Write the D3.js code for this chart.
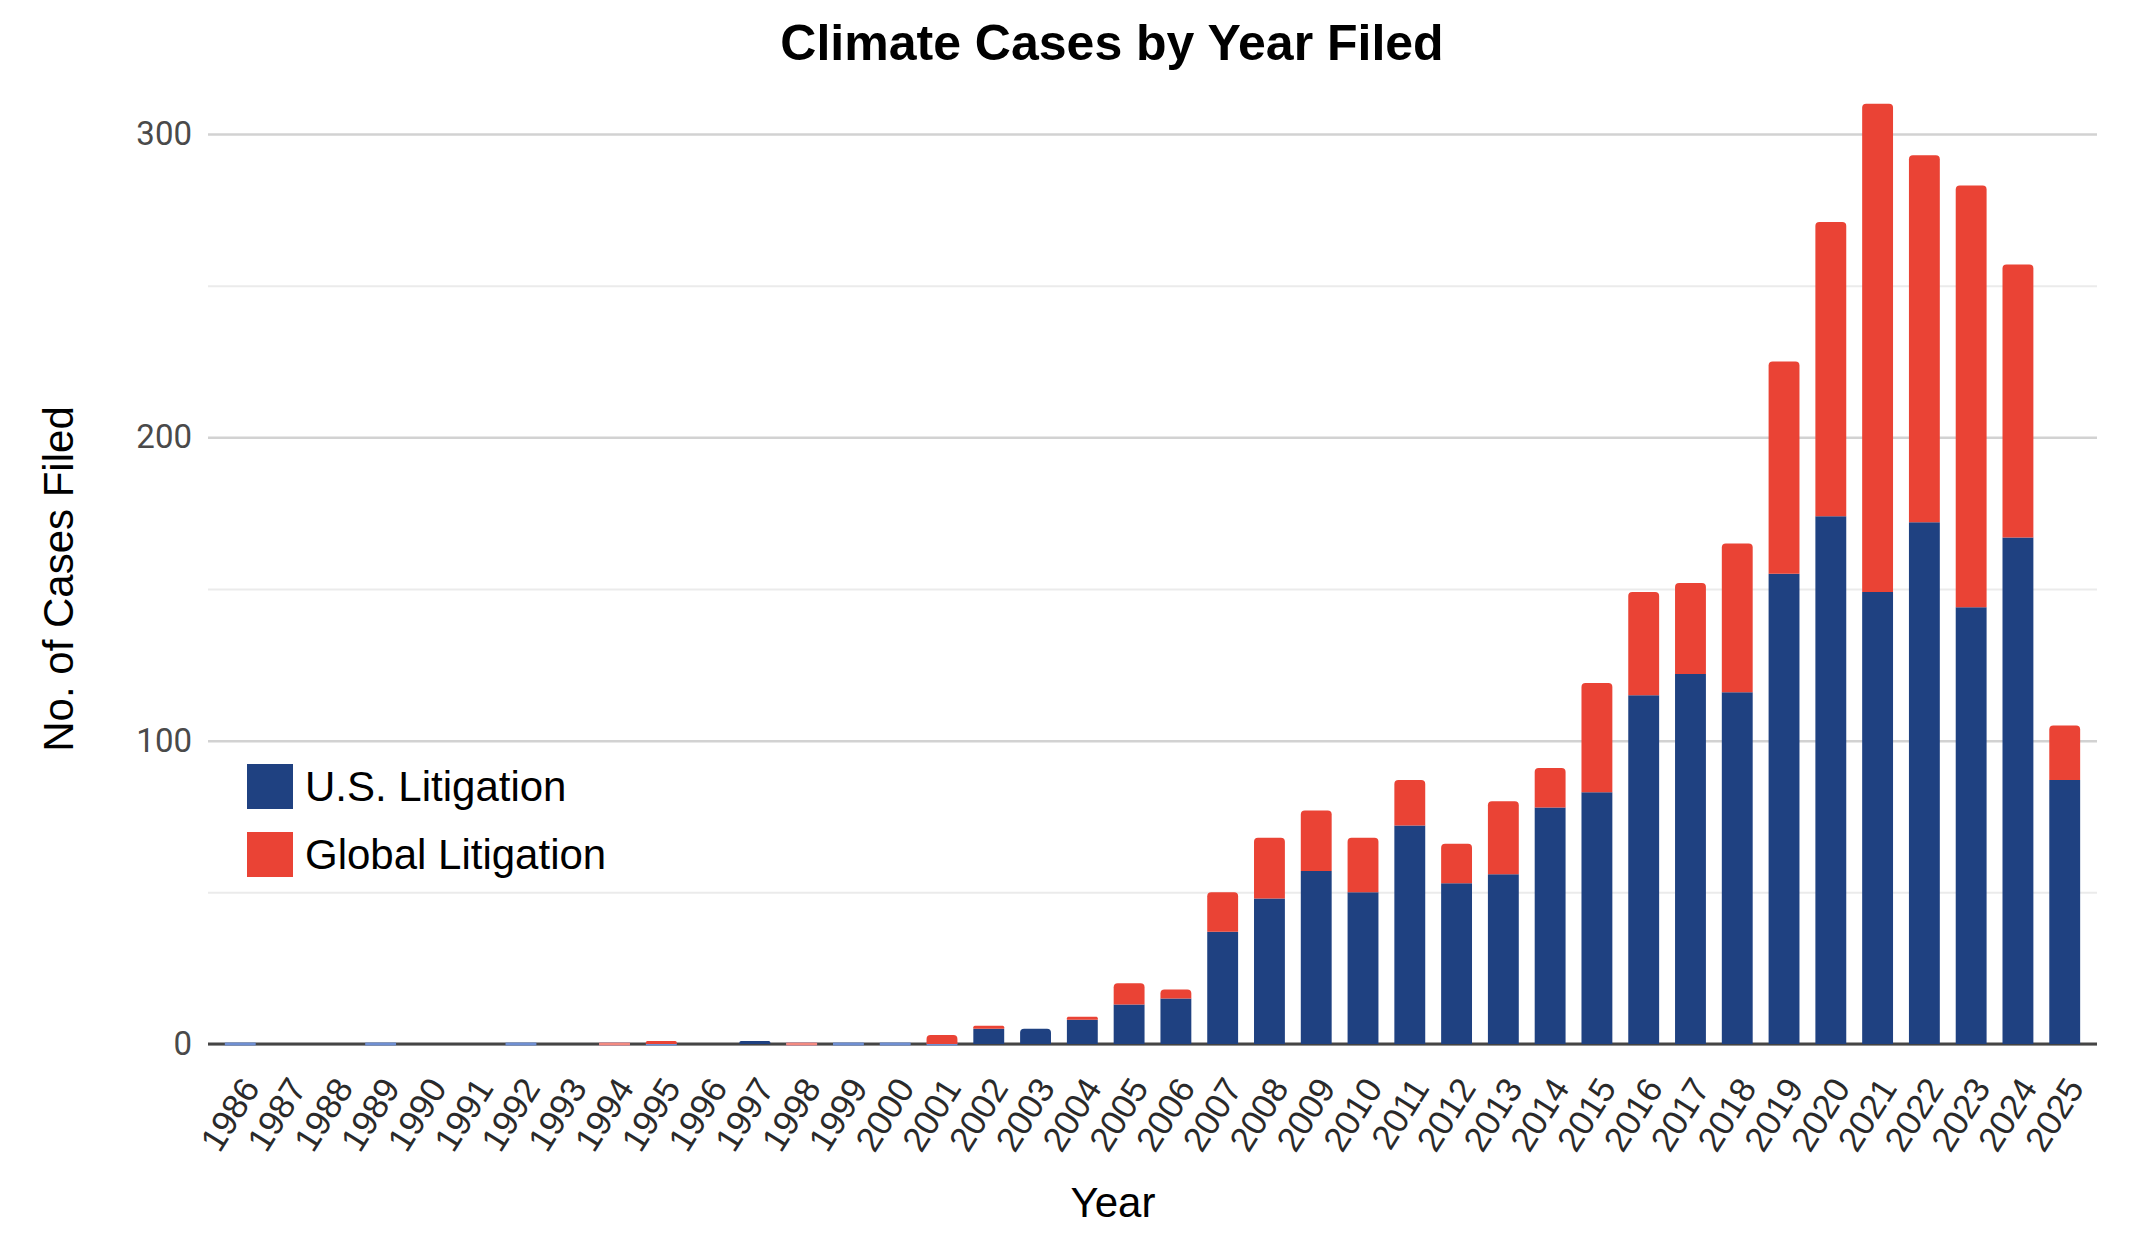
<!DOCTYPE html>
<html>
    <head>
        <title>Climate Cases by Year Filed</title>
        <script src="https://d3js.org/d3.v7.min.js"></script>
        <style>
            * {
                margin: 0;
                padding: 0;
                box-sizing: border-box;
            }

            body {
                overflow: hidden;
                background-color: #ffffff;
            }

            svg {
                display: block;
                background-color: #ffffff;
            }

            .grid .domain,
            .y-axis .domain,
            .x-axis .domain {
                display: none;
            }
        </style>
    </head>
    <body>
        <script>
            // values (null = no bar drawn)
            const years = [
                '1986', '1987', '1988', '1989', '1990', '1991', '1992', '1993', '1994', '1995',
                '1996', '1997', '1998', '1999', '2000', '2001', '2002', '2003', '2004', '2005',
                '2006', '2007', '2008', '2009', '2010', '2011', '2012', '2013', '2014', '2015',
                '2016', '2017', '2018', '2019', '2020', '2021', '2022', '2023', '2024', '2025',
            ];
            const usCases = [
                0, null, null, 0, null, null, 0, null, 0, 0,
                null, 1, 0, 0, 0, 0, 5, 5, 8, 13,
                15, 37, 48, 57, 50, 72, 53, 56, 78, 83,
                115, 122, 116, 155, 174, 149, 172, 144, 167, 87,
            ];
            const globalCases = [
                null, null, null, null, null, null, null, null, 0, 1,
                null, null, 0, null, null, 3, 1, null, 1, 7,
                3, 13, 20, 20, 18, 15, 13, 24, 13, 36,
                34, 30, 49, 70, 97, 161, 121, 139, 90, 18,
            ];
            const yTicks = [0, 100, 200, 300];
            const gridTicks = [0, 50, 100, 150, 200, 250, 300];
            const seriesNames = ['U.S. Litigation', 'Global Litigation'];

            const width = 2151;
            const height = 1245;
            const plotLeft = 208;
            const plotRight = 2097;
            const plotTop = 134;
            const plotBottom = 1044;

            const blue = '#1f4181';
            const red = '#ea4335';
            const colors = [blue, red];
            const zeroColors = ['#6f8fd2', '#f48a80'];

            const svg = d3.select('body').append('svg').attr('width', width).attr('height', height);

            const x = d3.scaleBand().domain(years).range([plotLeft, plotRight]).paddingInner(0.34).paddingOuter(0.36);
            const y = d3.scaleLinear().domain([0, 300]).range([plotBottom, plotTop]);

            // gridlines
            svg.append('g')
                .attr('class', 'grid')
                .attr('transform', `translate(${plotLeft},0)`)
                .call(d3.axisLeft(y).tickValues(gridTicks).tickSize(-(plotRight - plotLeft)).tickFormat(''))
                .selectAll('line')
                .attr('stroke', (d) => (d % 100 === 0 ? '#d2d2d2' : '#ebebeb'))
                .attr('stroke-width', (d) => (d % 100 === 0 ? 2.5 : 2));

            // baseline
            svg.append('line')
                .attr('x1', plotLeft)
                .attr('x2', plotRight)
                .attr('y1', y(0))
                .attr('y2', y(0))
                .attr('stroke', '#454545')
                .attr('stroke-width', 3);

            // stacked bars
            const rows = years.map((yr, i) => {
                const us = usCases[i];
                const gl = globalCases[i];
                const u = us || 0;
                const g = gl || 0;
                return {
                    year: yr,
                    segs: [
                        { s: 0, v: us, y0: 0, y1: u, top: !g },
                        { s: 1, v: gl, y0: u, y1: u + g, top: true },
                    ],
                };
            });

            function barPath(x0, w, yTop, yBot, r) {
                r = Math.min(r, (yBot - yTop) / 2, w / 2);
                return `M${x0},${yBot}V${yTop + r}Q${x0},${yTop} ${x0 + r},${yTop}H${x0 + w - r}Q${x0 + w},${yTop} ${x0 + w},${yTop + r}V${yBot}Z`;
            }

            const bars = svg.append('g').attr('class', 'bars');

            rows.forEach((row) => {
                const bx = x(row.year);
                const bw = x.bandwidth();
                row.segs.forEach((seg) => {
                    if (seg.v === null) return;
                    if (seg.v === 0) {
                        bars.append('rect')
                            .attr('x', bx)
                            .attr('y', y(seg.y0) - 1.5)
                            .attr('width', bw)
                            .attr('height', 3)
                            .attr('fill', zeroColors[seg.s]);
                        return;
                    }
                    bars.append('path')
                        .attr('d', barPath(bx, bw, y(seg.y1), y(seg.y0), seg.top ? 4 : 0))
                        .attr('fill', colors[seg.s]);
                });
            });

            // y axis labels
            svg.append('g')
                .attr('class', 'y-axis')
                .attr('transform', `translate(${plotLeft},0)`)
                .call(d3.axisLeft(y).tickValues(yTicks).tickSize(0).tickPadding(16))
                .selectAll('text')
                .attr('font-family', 'Roboto, sans-serif')
                .attr('font-size', 33)
                .attr('fill', '#4a4a4a');

            // x axis labels
            svg.append('g')
                .attr('class', 'x-axis')
                .attr('transform', `translate(0,${plotBottom})`)
                .call(d3.axisBottom(x).tickSize(0))
                .selectAll('text')
                .attr('font-family', "'Liberation Sans', Arial, sans-serif")
                .attr('font-size', 35)
                .attr('fill', '#2a2a2a')
                .attr('text-anchor', 'end')
                .attr('dy', 0)
                .attr('y', 0)
                .attr('transform', `translate(${x.bandwidth() / 2 + 5},44) rotate(-58)`);

            // title
            svg.append('text')
                .attr('x', 1112)
                .attr('y', 60)
                .attr('text-anchor', 'middle')
                .attr('font-family', "'Liberation Sans', Arial, sans-serif")
                .attr('font-weight', 'bold')
                .attr('font-size', 50)
                .attr('fill', '#000')
                .text('Climate Cases by Year Filed');

            // axis titles
            svg.append('text')
                .attr('x', 1113)
                .attr('y', 1217)
                .attr('text-anchor', 'middle')
                .attr('font-family', "'Liberation Sans', Arial, sans-serif")
                .attr('font-size', 42)
                .attr('fill', '#000')
                .text('Year');

            svg.append('text')
                .attr('transform', `translate(73,579) rotate(-90)`)
                .attr('text-anchor', 'middle')
                .attr('font-family', "'Liberation Sans', Arial, sans-serif")
                .attr('font-size', 42)
                .attr('fill', '#000')
                .text('No. of Cases Filed');

            // legend
            const legend = svg.append('g').attr('transform', 'translate(247,764)');
            seriesNames.forEach((name, i) => {
                const g = legend.append('g').attr('transform', `translate(0,${i * 68})`);
                g.append('rect').attr('width', 46).attr('height', 45).attr('fill', colors[i]);
                g.append('text')
                    .attr('x', 58)
                    .attr('y', 22)
                    .attr('dy', '0.36em')
                    .attr('font-family', "'Liberation Sans', Arial, sans-serif")
                    .attr('font-size', 42)
                    .attr('fill', '#000')
                    .text(name);
            });
        </script>
    </body>
</html>
